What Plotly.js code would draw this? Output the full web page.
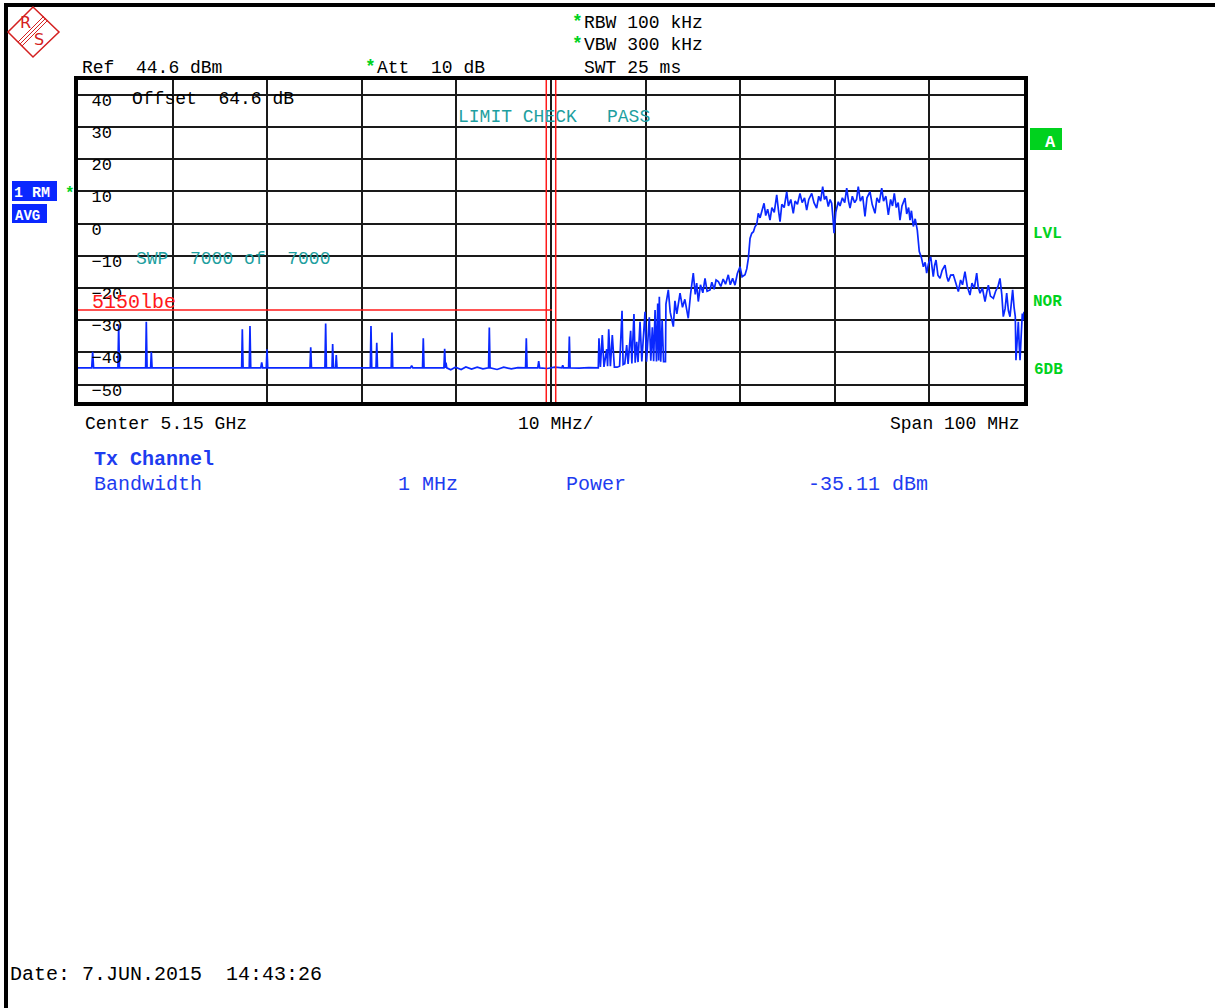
<!DOCTYPE html>
<html>
<head>
<meta charset="utf-8">
<script src="https://cdn.plot.ly/plotly-3.0.1.min.js"></script>
<style>
  html, body { margin: 0; padding: 0; background: #fff; }
  #chart { width: 1215px; height: 1008px; }
</style>
</head>
<body>
<div id="chart"></div>
<script>
// ---------------- data ----------------
const freqMHz = [
  5100.00,
  5101.45, 5101.55, 5101.65,
  5104.22, 5104.30, 5104.38,
  5107.15, 5107.22, 5107.30,
  5107.68, 5107.75, 5107.83,
  5117.30, 5117.37, 5117.45,
  5118.10, 5118.18, 5118.26,
  5119.32, 5119.42, 5119.52,
  5119.90, 5119.98, 5120.06,
  5124.52, 5124.60, 5124.68,
  5126.10, 5126.18, 5126.26,
  5126.85, 5126.92, 5127.00,
  5127.22, 5127.30, 5127.38,
  5130.90, 5130.97, 5131.05,
  5131.50, 5131.58, 5131.66,
  5133.11, 5133.19, 5133.27,
  5135.15, 5135.27, 5135.40,
  5136.42, 5136.50, 5136.58,
  5138.68, 5138.76, 5138.84, 5138.90, 5138.98,
  5139.40, 5139.90, 5140.50, 5141.00, 5141.60, 5142.20, 5142.80,
  5143.40, 5143.48, 5143.56,
  5144.30, 5145.00, 5145.80, 5146.50,
  5147.31, 5147.39, 5147.47,
  5148.60, 5148.70, 5148.80,
  5149.60, 5150.40,
  5151.15, 5151.24, 5151.33,
  5151.86, 5151.94, 5152.02,
  5153.00, 5154.00,
  5155.00, 5155.07, 5155.22, 5155.42, 5155.60, 5155.89, 5155.98, 5156.10, 5156.28, 5156.48,
  5156.70, 5157.00, 5157.25, 5157.51, 5157.62, 5157.80, 5158.00, 5158.15, 5158.42, 5158.55,
  5158.77, 5158.90, 5159.06, 5159.20, 5159.41, 5159.60, 5159.94, 5160.10, 5160.39, 5160.55,
  5160.71, 5160.85, 5161.00, 5161.15, 5161.28, 5161.38, 5161.45, 5161.60, 5161.75, 5161.90,
  5162.10, 5162.15, 5162.40, 5162.60, 5162.93, 5163.10, 5163.30, 5163.64, 5163.90, 5164.15,
  5164.51, 5164.75, 5165.04, 5165.25, 5165.40, 5165.57, 5165.80, 5166.05, 5166.28, 5166.50,
  5166.81, 5167.00, 5167.25, 5167.45, 5167.69, 5167.95, 5168.20, 5168.45, 5168.74, 5168.95,
  5169.20, 5169.45, 5169.70, 5169.98, 5170.20, 5170.51, 5170.70, 5170.86, 5171.04, 5171.22,
  5171.40, 5171.56, 5171.75, 5171.91, 5172.10, 5172.30, 5172.52, 5172.70, 5172.90, 5173.15,
  5173.35, 5173.60, 5173.86, 5174.05, 5174.21, 5174.40, 5174.65, 5174.92, 5175.10, 5175.35,
  5175.61, 5175.80, 5176.05, 5176.32, 5176.55, 5176.80, 5177.03, 5177.25, 5177.56, 5177.80,
  5178.08, 5178.30, 5178.50, 5178.72, 5178.90, 5179.10, 5179.31, 5179.50, 5179.67, 5179.80,
  5179.92, 5180.10, 5180.37, 5180.55, 5180.80, 5181.05, 5181.26, 5181.45, 5181.61, 5181.85,
  5182.10, 5182.30, 5182.48, 5182.70, 5182.95, 5183.19, 5183.40, 5183.72, 5183.95, 5184.25,
  5184.45, 5184.70, 5184.96, 5185.15, 5185.40, 5185.66, 5185.90, 5186.10, 5186.29, 5186.50,
  5186.70, 5186.89, 5187.10, 5187.42, 5187.60, 5187.80, 5187.95, 5188.10, 5188.30, 5188.50,
  5188.72, 5188.93, 5189.15, 5189.36, 5189.55, 5189.71, 5189.90, 5190.14, 5190.30, 5190.41,
  5190.55, 5190.70, 5190.90, 5191.12, 5191.35, 5191.65, 5191.85, 5192.00, 5192.25, 5192.53,
  5192.80, 5193.06, 5193.30, 5193.50, 5193.76, 5194.00, 5194.29, 5194.50, 5194.75, 5195.00,
  5195.15, 5195.35, 5195.60, 5195.88, 5196.05, 5196.23, 5196.45, 5196.76, 5197.00, 5197.25,
  5197.46, 5197.65, 5197.81, 5198.00, 5198.17, 5198.35, 5198.52, 5198.70, 5198.80, 5198.95,
  5199.08, 5199.15, 5199.28, 5199.40, 5199.50, 5199.58, 5199.70, 5199.82, 5199.92, 5200.00
];
const levelDBm = [
  -44.8,
  -44.8, -39.8, -44.8,
  -44.8, -31.3, -44.8,
  -44.8, -30.5, -44.8,
  -44.8, -39.8, -44.8,
  -44.8, -32.8, -44.8,
  -44.8, -31.8, -44.8,
  -44.8, -43.1, -44.8,
  -44.8, -39.0, -44.8,
  -44.8, -38.4, -44.8,
  -44.8, -31.0, -44.8,
  -44.8, -37.4, -44.8,
  -44.8, -40.8, -44.8,
  -44.8, -31.8, -44.8,
  -44.8, -37.0, -44.8,
  -44.8, -33.8, -44.8,
  -44.8, -44.1, -44.8,
  -44.8, -35.6, -44.8,
  -44.8, -38.9, -44.8, -43.2, -44.8,
  -45.4, -44.6, -45.3, -44.5, -45.2, -44.6, -45.1,
  -44.8, -32.3, -44.8,
  -45.3, -44.6, -45.1, -44.7,
  -44.8, -35.6, -44.8,
  -44.8, -42.7, -44.8,
  -45.0, -44.6,
  -44.8, -44.0, -44.8,
  -44.8, -35.1, -44.8,
  -44.9, -44.7,
  -44.8, -35.6, -44.5, -34.6, -44.5, -39.0, -44.3, -32.8, -44.3, -34.6,
  -44.6, -44.6, -44.3, -27.1, -43.8, -43.5, -37.7, -43.6, -33.3, -43.4,
  -28.1, -43.2, -36.7, -43.0, -30.5, -42.8, -27.4, -42.9, -29.1, -42.6,
  -32.2, -42.7, -26.8, -42.8, -24.8, -42.5, -22.7, -42.9, -30.0, -42.9,
  -42.9, -25.0, -20.6, -27.5, -32.0, -24.0, -28.0, -21.6, -26.0, -23.5,
  -29.4, -22.0, -15.4, -22.0, -18.5, -24.2, -19.0, -21.5, -17.0, -21.0,
  -20.6, -18.2, -20.4, -17.5, -18.0, -19.5, -17.2, -18.8, -15.9, -19.0,
  -17.0, -19.1, -15.5, -13.4, -16.5, -15.9, -14.0, -10.8, -4.6, -3.0,
  -2.5, -1.0, -0.2, 3.2, 1.8, 4.0, 6.3, 2.5, 4.5, 1.1,
  5.0, 3.5, 8.9, 4.0, 0.6, 6.0, 5.0, 9.9, 5.5, 7.5,
  3.2, 7.0, 6.0, 9.4, 6.5, 8.0, 4.2, 7.5, 9.4, 6.5,
  4.8, 8.5, 7.0, 11.5, 7.5, 8.5, 5.3, 7.5, 6.3, 2.0,
  -3.0, 3.5, 6.8, 5.5, 8.0, 6.5, 11.0, 7.0, 4.8, 8.5,
  6.5, 7.5, 11.5, 7.0, 8.5, 2.2, 8.0, 9.9, 6.0, 3.2,
  8.0, 6.5, 11.0, 7.0, 8.5, 2.7, 7.5, 5.5, 9.4, 5.0,
  6.5, 1.1, 5.5, 7.9, 3.0, 5.0, 1.1, 4.0, -0.9, 1.5,
  -2.0, -8.7, -10.5, -13.4, -12.0, -15.4, -12.5, -10.3, -15.0, -16.5,
  -13.0, -11.3, -16.0, -17.0, -14.5, -12.9, -16.5, -18.0, -16.0, -15.9,
  -18.5, -21.1, -17.5, -19.0, -14.9, -19.5, -22.2, -18.5, -20.0, -15.4,
  -19.5, -21.6, -20.0, -24.2, -21.5, -19.1, -22.5, -23.2, -21.0, -19.5,
  -17.0, -22.0, -28.9, -26.5, -21.6, -27.0, -28.9, -24.0, -20.6, -26.0,
  -28.9, -42.4, -36.0, -30.5, -38.0, -42.4, -35.0, -27.9, -30.0, -27.4
];
const yTickVals = [40, 30, 20, 10, 0, -10, -20, -30, -40, -50];
const refLevel = 44.6;
const bottomLevel = -55.4;
const spanStart = 5100;
const spanEnd = 5200;
const limitLevel = -26.8;
const limitEnd = 5150.1;
const channelEdges = [5149.5, 5150.5];

// ---------------- geometry helpers (pixels -> paper) ----------------
const W = 1215, H = 1008;
const L = 78, R = 1024, T = 80, B = 402;
const px = x => (x - L) / (R - L);
const py = y => (B - y) / (B - T);

const MONO = "'Liberation Mono', 'Courier New', monospace";
const NB = '\u00a0';
function txt(x, y, text, color, size, opts) {
  return Object.assign({
    xref: 'paper', yref: 'paper', x: px(x), y: py(y + 1), text: text,
    showarrow: false, xanchor: 'left', yanchor: 'middle',
    font: { family: MONO, size: size || 18, color: color || '#000' }
  }, opts || {});
}
function bold(size, color) { return { font: { family: MONO, size: size, color: color, weight: 'bold' } }; }

const black = '#000';
const teal = '#1e9fa0';
const green = '#00d21e';
const blueTxt = '#1e3cf0';
const red = '#ff1a1a';

const annotations = [
  txt(80, 67, 'Ref' + NB + NB + '44.6' + NB + 'dBm', black),
  txt(363, 66, '*', green, 18, bold(18, green)),
  txt(375, 67, 'Att' + NB + NB + '10' + NB + 'dB', black),
  txt(570, 21, '*', green, 18, bold(18, green)),
  txt(582, 22, 'RBW' + NB + '100' + NB + 'kHz', black),
  txt(570, 43, '*', green, 18, bold(18, green)),
  txt(582, 44, 'VBW' + NB + '300' + NB + 'kHz', black),
  txt(582, 67, 'SWT' + NB + '25' + NB + 'ms', black),
  txt(130, 98, 'Offset' + NB + NB + '64.6' + NB + 'dB', black),
  txt(456, 116, 'LIMIT' + NB + 'CHECK', teal),
  txt(605, 116, 'PASS', teal),
  txt(134, 258, 'SWP' + NB + NB + '7000' + NB + 'of' + NB + NB + '7000', teal),
  txt(90, 301, '5150lbe', red, 20),
  txt(83, 423, 'Center' + NB + '5.15' + NB + 'GHz', black),
  txt(516, 423, '10' + NB + 'MHz/', black),
  txt(1022, 423, 'Span' + NB + '100' + NB + 'MHz', black, 18, { xanchor: 'right' }),
  txt(92, 458, 'Tx' + NB + 'Channel', blueTxt, 20, bold(20, blueTxt)),
  txt(92, 483, 'Bandwidth', blueTxt, 20),
  txt(396, 483, '1' + NB + 'MHz', blueTxt, 20),
  txt(564, 483, 'Power', blueTxt, 20),
  txt(806, 483, '-35.11' + NB + 'dBm', blueTxt, 20),
  txt(8, 973, 'Date:' + NB + '7.JUN.2015' + NB + NB + '14:43:26', black, 20),
  // side status labels
  txt(12, 192, '1' + NB + 'RM', '#fff', 15, bold(15, '#fff')),
  txt(13, 215, 'AVG', '#fff', 14, bold(14, '#fff')),
  txt(63, 193, '*', green, 16, bold(16, green)),
  txt(1050, 141, 'A', '#fff', 17, Object.assign({ xanchor: 'center' }, bold(17, '#fff'))),
  txt(1031, 233, 'LVL', green, 16, bold(16, green)),
  txt(1031, 301, 'NOR', green, 16, bold(16, green)),
  txt(1032, 369, '6DB', green, 16, bold(16, green)),
  // logo letters
  txt(25, 22, 'R', '#d42020', 16, { xanchor: 'center', font: { family: 'DejaVu Sans', size: 16, color: '#d42020' } }),
  txt(39, 39, 'S', '#d42020', 16, { xanchor: 'center', font: { family: 'DejaVu Sans', size: 16, color: '#d42020' } })
];

function pathPx(points) {
  return points.map((p, i) => (i ? 'L' : 'M') + px(p[0]).toFixed(5) + ',' + py(p[1]).toFixed(5)).join(' ');
}

const shapes = [
  // page border
  { type: 'line', xref: 'paper', yref: 'paper', x0: px(4), x1: px(1215), y0: py(5), y1: py(5), line: { color: '#000', width: 4 } },
  { type: 'line', xref: 'paper', yref: 'paper', x0: px(6), x1: px(6), y0: py(3), y1: py(1008), line: { color: '#000', width: 4 } },
  // logo diamond
  { type: 'path', xref: 'paper', yref: 'paper', path: pathPx([[33, 7], [59, 32], [33, 57], [8, 32]]) + ' Z', line: { color: '#d42020', width: 1.5 } },
  { type: 'path', xref: 'paper', yref: 'paper', path: pathPx([[46, 18], [20, 44]]), line: { color: '#d42020', width: 1 } },
  { type: 'path', xref: 'paper', yref: 'paper', path: pathPx([[48, 20], [22, 46]]), line: { color: '#d42020', width: 1 } },
  { type: 'path', xref: 'paper', yref: 'paper', path: pathPx([[44, 16], [18, 42]]), line: { color: '#d42020', width: 1 } },
  // status boxes
  { type: 'rect', xref: 'paper', yref: 'paper', x0: px(12), x1: px(57), y0: py(181), y1: py(201), fillcolor: '#0a28ff', line: { width: 0 }, layer: 'below' },
  { type: 'rect', xref: 'paper', yref: 'paper', x0: px(12), x1: px(47), y0: py(204), y1: py(223), fillcolor: '#0a28ff', line: { width: 0 }, layer: 'below' },
  { type: 'rect', xref: 'paper', yref: 'paper', x0: px(1030), x1: px(1062), y0: py(128), y1: py(150), fillcolor: '#00d21e', line: { width: 0 }, layer: 'below' },
  // limit line
  { type: 'line', xref: 'x', yref: 'y', x0: spanStart, x1: limitEnd, y0: limitLevel, y1: limitLevel, line: { color: red, width: 1.5 } },
  // channel edge lines
  { type: 'line', xref: 'x', yref: 'paper', x0: channelEdges[0], x1: channelEdges[0], y0: 0, y1: 1, line: { color: red, width: 1.5 } },
  { type: 'line', xref: 'x', yref: 'paper', x0: channelEdges[1], x1: channelEdges[1], y0: 0, y1: 1, line: { color: red, width: 1.5 } }
];

const trace = {
  type: 'scatter', mode: 'lines', x: freqMHz, y: levelDBm,
  line: { color: '#0a28ff', width: 1.7 }, hoverinfo: 'skip', showlegend: false
};

const layout = {
  width: W, height: H,
  margin: { l: L, r: W - R, t: T, b: H - B, pad: 0 },
  paper_bgcolor: '#fff', plot_bgcolor: '#fff',
  showlegend: false,
  xaxis: {
    range: [spanStart, spanEnd], tick0: spanStart, dtick: 10,
    showgrid: true, gridcolor: '#1a1a1a', gridwidth: 2,
    showticklabels: false, ticks: '', zeroline: false,
    showline: true, mirror: true, linecolor: '#000', linewidth: 4, fixedrange: true
  },
  yaxis: {
    range: [bottomLevel, refLevel], tickvals: yTickVals,
    showgrid: true, gridcolor: '#1a1a1a', gridwidth: 2, zeroline: false,
    ticks: '',
    ticklabelposition: 'inside',
    ticklabelstandoff: 14,
    ticklabelshift: 5,
    tickfont: { family: MONO, size: 17, color: '#000' },
    showline: true, mirror: true, linecolor: '#000', linewidth: 4, fixedrange: true
  },
  shapes: shapes,
  annotations: annotations
};

Plotly.newPlot('chart', [trace], layout, { displayModeBar: false, staticPlot: true });
</script>
</body>
</html>
